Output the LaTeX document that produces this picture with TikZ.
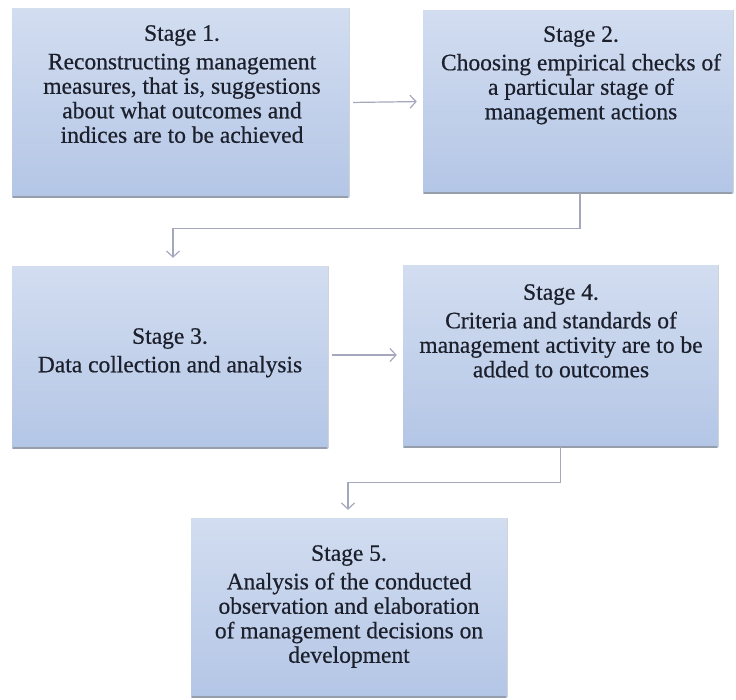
\documentclass[tikz,border=0pt]{standalone}
\usepackage{fontspec}
\setmainfont{Liberation Serif}[FakeBold=0.5]
\usetikzlibrary{arrows.meta,calc}

\definecolor{boxtop}{RGB}{210,221,240}
\definecolor{boxbot}{RGB}{180,198,230}
\definecolor{boxedge}{RGB}{150,158,172}
\definecolor{linkcol}{RGB}{165,168,188}
\definecolor{inkcol}{RGB}{28,32,44}

\tikzset{
  stagebox/.style={rectangle, draw=none, inner sep=0pt,
    top color=boxtop, bottom color=boxbot},
  stagetext/.style={anchor=north, inner sep=0pt, align=center,
    text=inkcol, font=\fontsize{23.5pt}{24.5pt}\selectfont},
  link/.style={draw=linkcol, line width=1.2pt,
    -{Straight Barb[length=6pt,width=13pt,line width=1.2pt]}},
}

\newcommand{\stageshadow}[1]{%
  \draw[boxedge, line width=1.6pt] ([xshift=0.8pt]#1.south west) -- ([xshift=-0.8pt]#1.south east);%
  \draw[boxedge!45, line width=0.8pt] (#1.south east) -- (#1.north east);}

\begin{document}
\begin{tikzpicture}[x=1pt,y=-1pt]
  \useasboundingbox[fill=white] (0,0) rectangle (736,699);

  % boxes
  \node[stagebox, minimum width=337pt, minimum height=189pt] (s1) at (180.5,102.5) {};
  \node[stagebox, minimum width=310pt, minimum height=183pt] (s2) at (578,101.5) {};
  \node[stagebox, minimum width=316pt, minimum height=182pt] (s3) at (170,357) {};
  \node[stagebox, minimum width=315pt, minimum height=182pt] (s4) at (560.5,356) {};
  \node[stagebox, minimum width=316pt, minimum height=179pt] (s5) at (349,607.5) {};
  \stageshadow{s1}\stageshadow{s2}\stageshadow{s3}\stageshadow{s4}\stageshadow{s5}

  % texts
  \node[stagetext] (t1) at (182,25) {Stage 1.\\[4pt]Reconstructing management\\measures, that is, suggestions\\about what outcomes and\\indices are to be achieved};
  \node[stagetext] (t2) at (581,26) {Stage 2.\\[4pt]Choosing empirical checks of\\a particular stage of\\management actions};
  \node[stagetext] (t3) at (170,328) {Stage 3.\\[4pt]Data collection and analysis};
  \node[stagetext] (t4) at (561,284) {Stage 4.\\[4pt]Criteria and standards of\\management activity are to be\\added to outcomes};
  \node[stagetext] (t5) at (349,545) {Stage 5.\\[4pt]Analysis of the conducted\\observation and elaboration\\of management decisions on\\development};

  % connectors
  \coordinate (k2) at ($(s2.south)+(2,35)$);
  \coordinate (k4) at ($(s4.south)+(0,35)$);
  \draw[link, shorten <=4pt, shorten >=6pt] (s1.east) -- (s2.west);
  \draw[link, shorten >=8pt] ($(s2.south)+(2,0)$) -- (k2) -| ($(s3.north)+(3,0)$);
  \draw[link, shorten <=4pt, shorten >=6pt] ($(s3.east)+(0,-2)$) -- ($(s4.west)+(0,-1)$);
  \draw[link, shorten >=8pt] (s4.south) -- (k4) -| ($(s5.north)+(-1,0)$);
\end{tikzpicture}
\end{document}
